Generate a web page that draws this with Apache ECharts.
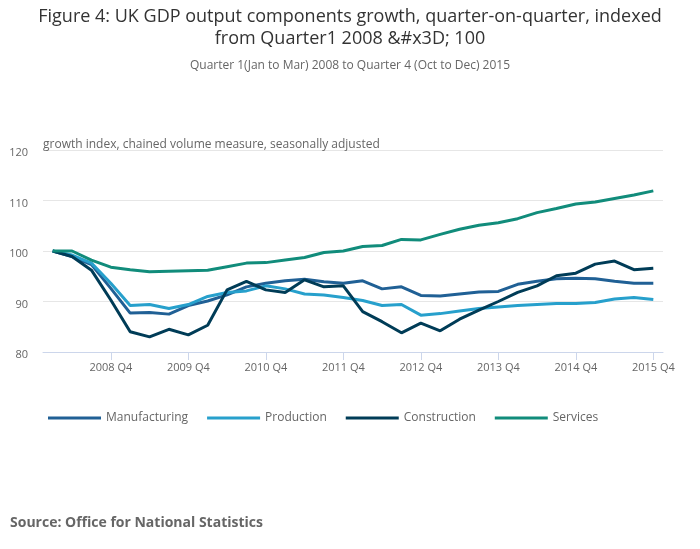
<!DOCTYPE html>
<html>
<head>
<meta charset="utf-8">
<script src="https://cdn.jsdelivr.net/npm/echarts@6/dist/echarts.min.js"></script>
<style>
  html, body { margin: 0; padding: 0; background: #fff; }
  #chart { width: 700px; height: 549px; }
</style>
</head>
<body>
<div id="chart"></div>
<script>
// quarters 2008 Q1 .. 2015 Q4
var quarters = [];
for (var y = 2008; y <= 2015; y++) {
	for (var q = 1; q <= 4; q++) {
		quarters.push(y + ' Q' + q);
	}
}

var manufacturing = [100, 98.9, 97.3, 92.6, 87.7, 87.8, 87.5, 89.2, 90.1, 91.3, 92.9, 93.6,
	94.1, 94.4, 93.9, 93.6, 94.1, 92.5, 92.9, 91.2, 91.1, 91.5, 91.9, 92.0,
	93.4, 94.0, 94.5, 94.6, 94.5, 94.0, 93.6, 93.6];
var production = [100, 99.2, 97.6, 93.6, 89.2, 89.4, 88.6, 89.4, 91.0, 91.8, 92.1, 93.1,
	92.5, 91.5, 91.3, 90.8, 90.2, 89.2, 89.4, 87.3, 87.6, 88.1, 88.6, 88.9,
	89.2, 89.4, 89.6, 89.6, 89.8, 90.5, 90.8, 90.4];
var construction = [100, 98.9, 96.2, 90.3, 84.0, 83.0, 84.5, 83.4, 85.3, 92.3, 94.0, 92.3,
	91.8, 94.3, 92.9, 93.1, 88.0, 86.0, 83.8, 85.7, 84.2, 86.5, 88.3, 90.0,
	91.8, 93.1, 95.1, 95.6, 97.4, 98.0, 96.3, 96.6];
var services = [100, 100.0, 98.2, 96.8, 96.3, 95.9, 96.0, 96.1, 96.2, 96.9, 97.6, 97.7,
	98.2, 98.7, 99.7, 100.0, 100.9, 101.1, 102.3, 102.2, 103.3, 104.3, 105.1, 105.6,
	106.4, 107.6, 108.4, 109.3, 109.7, 110.4, 111.1, 111.9];

var seriesNames = ['Manufacturing', 'Production', 'Construction', 'Services'];
var seriesColors = ['#206095', '#27a0cc', '#003c57', '#118c7b'];
var seriesData = [manufacturing, production, construction, services];

var yTicks = [80, 90, 100, 110, 120];

function showQ4(i) {
	return i % 4 === 3;
}

var dom = document.getElementById('chart');
var myChart = echarts.init(dom);

var series = seriesNames.map(function (name, k) {
	return {
		name: name,
		type: 'line',
		data: seriesData[k],
		showSymbol: false,
		symbol: 'none',
		color: seriesColors[k],
		lineStyle: { width: 3, color: seriesColors[k] }
	};
});

var option = {
	animation: false,
	textStyle: { fontFamily: 'Open Sans' },
	title: [
		{
			text: 'Figure 4: UK GDP output components growth, quarter-on-quarter, indexed\nfrom Quarter1 2008 &#x3D; 100',
			left: 'center',
			top: 1,
			textStyle: {
				fontFamily: 'Open Sans',
				fontSize: 18,
				fontWeight: 'normal',
				color: '#333',
				lineHeight: 22
			}
		},
		{
			text: 'Quarter 1(Jan to Mar) 2008 to Quarter 4 (Oct to Dec) 2015',
			left: 'center',
			top: 55,
			textStyle: {
				fontFamily: 'Open Sans',
				fontSize: 12,
				fontWeight: 'normal',
				color: '#666'
			}
		},
		{
			text: 'Source: Office for National Statistics',
			left: 5,
			top: 511,
			textStyle: {
				fontFamily: 'Open Sans',
				fontSize: 14,
				fontWeight: 'bold',
				color: '#666'
			}
		}
	],
	legend: {
		data: seriesNames,
		left: 43,
		top: 407,
		icon: 'rect',
		itemWidth: 53,
		itemHeight: 3,
		itemGap: 19,
		textStyle: {
			fontFamily: 'Open Sans',
			fontSize: 12,
			color: '#666'
		}
	},
	grid: {
		left: 43,
		right: 37,
		top: 150,
		bottom: 197,
		containLabel: false
	},
	xAxis: {
		type: 'category',
		data: quarters,
		boundaryGap: true,
		axisLine: { lineStyle: { color: '#ccd6eb', width: 1 } },
		axisTick: {
			show: true,
			alignWithLabel: true,
			interval: function (i) { return showQ4(i); },
			length: 8,
			lineStyle: { color: '#ccd6eb' }
		},
		axisLabel: {
			interval: function (i) { return showQ4(i); },
			margin: 10,
			fontFamily: 'Open Sans',
			fontSize: 11,
			color: '#666'
		},
		splitLine: { show: false }
	},
	yAxis: {
		type: 'value',
		min: yTicks[0],
		max: yTicks[yTicks.length - 1],
		interval: 10,
		name: 'growth index, chained volume measure, seasonally adjusted',
		nameLocation: 'end',
		nameGap: -1,
		nameTextStyle: {
			align: 'left',
			fontFamily: 'Open Sans',
			fontSize: 12,
			color: '#666'
		},
		axisLine: { show: false },
		axisTick: { show: false },
		axisLabel: {
			margin: 15,
			verticalAlign: 'top',
			lineHeight: 6,
			fontFamily: 'Open Sans',
			fontSize: 11,
			color: '#666'
		},
		splitLine: { lineStyle: { color: '#e6e6e6' } }
	},
	series: series
};

myChart.setOption(option, true);
</script>
</body>
</html>
